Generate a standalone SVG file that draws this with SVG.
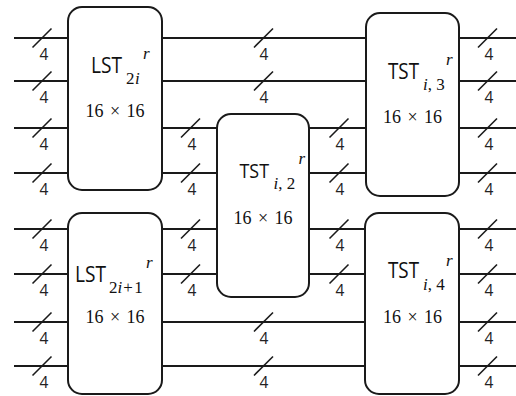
<svg xmlns="http://www.w3.org/2000/svg" xmlns:xlink="http://www.w3.org/1999/xlink" width="516" height="396" viewBox="0 0 516 396">
<style>
.bx{fill:#fff;stroke:#1a1a1a;stroke-width:2}
.ln{stroke:#1a1a1a;stroke-width:1.8;fill:none}
.lb{font-family:"Open Sans","DejaVu Sans",sans-serif;font-size:15.5px;fill:#222;text-anchor:middle}
.nm{font-family:"Open Sans","DejaVu Sans",sans-serif;font-size:21px;fill:#111}
.sb{font-family:"Liberation Serif","Times New Roman",serif;font-size:17px;fill:#111}
.it{font-style:italic}
.sz{font-family:"Liberation Serif","Times New Roman",serif;font-size:18px;fill:#111;text-anchor:middle}
</style>
<defs>
<path id="sl" d="M-9.5,9.5 L9.5,-9.5" stroke="#1a1a1a" stroke-width="1.6"/>
</defs>
<rect width="516" height="396" fill="#fff"/>
<g id="connectors" class="ln">
<path d="M14,38H68M14,81H68M14,128H68M14,173H68M14,229H68M14,274H68M14,322H68M14,366H68"/>
<path d="M162,38H366M162,81H366"/>
<path d="M162,128H217M162,173H217"/>
<path d="M162,229H217M162,274H217"/>
<path d="M162,322H365M162,366H365"/>
<path d="M309,128H366M309,173H366M309,229H365M309,274H365"/>
<path d="M459,38H516M459,81H516M459,128H516M459,173H516M459,229H516M459,274H516M459,322H516M459,366H516"/>
<g>
<use xlink:href="#sl" x="42" y="38"/><use xlink:href="#sl" x="42" y="81"/><use xlink:href="#sl" x="42" y="128"/><use xlink:href="#sl" x="42" y="173"/>
<use xlink:href="#sl" x="42" y="229"/><use xlink:href="#sl" x="42" y="274"/><use xlink:href="#sl" x="42" y="322"/><use xlink:href="#sl" x="42" y="366"/>
<use xlink:href="#sl" x="263.5" y="38"/><use xlink:href="#sl" x="263.5" y="81"/><use xlink:href="#sl" x="263.5" y="322"/><use xlink:href="#sl" x="263.5" y="366"/>
<use xlink:href="#sl" x="190.5" y="128"/><use xlink:href="#sl" x="190.5" y="173"/><use xlink:href="#sl" x="190.5" y="229"/><use xlink:href="#sl" x="190.5" y="274"/>
<use xlink:href="#sl" x="339" y="128"/><use xlink:href="#sl" x="339" y="173"/><use xlink:href="#sl" x="339" y="229"/><use xlink:href="#sl" x="339" y="274"/>
<use xlink:href="#sl" x="487.5" y="38"/><use xlink:href="#sl" x="487.5" y="81"/><use xlink:href="#sl" x="487.5" y="128"/><use xlink:href="#sl" x="487.5" y="173"/>
<use xlink:href="#sl" x="487.5" y="229"/><use xlink:href="#sl" x="487.5" y="274"/><use xlink:href="#sl" x="487.5" y="322"/><use xlink:href="#sl" x="487.5" y="366"/>
</g>
<g class="lb" stroke="none">
<text x="44" y="60">4</text><text x="44" y="103">4</text><text x="44" y="150">4</text><text x="44" y="195">4</text>
<text x="44" y="251">4</text><text x="44" y="296">4</text><text x="44" y="344">4</text><text x="44" y="388">4</text>
<text x="264" y="60">4</text><text x="264" y="103">4</text><text x="264" y="344">4</text><text x="264" y="388">4</text>
<text x="192" y="150">4</text><text x="192" y="195">4</text><text x="192" y="251">4</text><text x="192" y="296">4</text>
<text x="340" y="150">4</text><text x="340" y="195">4</text><text x="340" y="251">4</text><text x="340" y="296">4</text>
<text x="489" y="60">4</text><text x="489" y="103">4</text><text x="489" y="150">4</text><text x="489" y="195">4</text>
<text x="489" y="251">4</text><text x="489" y="296">4</text><text x="489" y="344">4</text><text x="489" y="388">4</text>
</g>
</g>
<g id="lst2i">
<rect class="bx" x="68" y="7" width="94" height="183" rx="14"/>
<text class="nm" x="91" y="73" textLength="31" lengthAdjust="spacingAndGlyphs">LST</text>
<text class="sb" x="126" y="84">2<tspan class="it" dx="0.5">i</tspan></text>
<text class="sb it" x="143" y="59">r</text>
<text class="sz" x="94.5" y="117">16</text><text class="sz" x="115" y="117">×</text><text class="sz" x="135.5" y="117">16</text>
</g>
<g id="lst2i1">
<rect class="bx" x="68" y="213" width="94" height="181" rx="14"/>
<text class="nm" x="75" y="282" textLength="31" lengthAdjust="spacingAndGlyphs">LST</text>
<text class="sb" x="109" y="293">2<tspan class="it">i</tspan><tspan dx="1">+</tspan><tspan dx="1.5">1</tspan></text>
<text class="sb it" x="146" y="268">r</text>
<text class="sz" x="94.5" y="323">16</text><text class="sz" x="115" y="323">×</text><text class="sz" x="135.5" y="323">16</text>
</g>
<g id="tst2">
<rect class="bx" x="217" y="114" width="92" height="183" rx="14"/>
<text class="nm" x="239.5" y="178" style="font-size:20px" textLength="29.5" lengthAdjust="spacingAndGlyphs">TST</text>
<text class="sb" x="273.5" y="189"><tspan class="it">i</tspan>, 2</text>
<text class="sb it" x="298.5" y="164">r</text>
<text class="sz" x="242.5" y="224">16</text><text class="sz" x="263" y="224">×</text><text class="sz" x="283.5" y="224">16</text>
</g>
<g id="tst3">
<rect class="bx" x="366" y="13" width="93" height="183" rx="14"/>
<text class="nm" x="388" y="79" textLength="31" lengthAdjust="spacingAndGlyphs">TST</text>
<text class="sb" x="423" y="90"><tspan class="it">i</tspan>, 3</text>
<text class="sb it" x="446" y="65">r</text>
<text class="sz" x="392" y="123">16</text><text class="sz" x="412.5" y="123">×</text><text class="sz" x="433" y="123">16</text>
</g>
<g id="tst4">
<rect class="bx" x="365" y="213" width="94" height="181" rx="14"/>
<text class="nm" x="388" y="278" textLength="31" lengthAdjust="spacingAndGlyphs">TST</text>
<text class="sb" x="423" y="290"><tspan class="it">i</tspan>, 4</text>
<text class="sb it" x="446" y="266">r</text>
<text class="sz" x="392" y="323">16</text><text class="sz" x="412.5" y="323">×</text><text class="sz" x="433" y="323">16</text>
</g>
</svg>
